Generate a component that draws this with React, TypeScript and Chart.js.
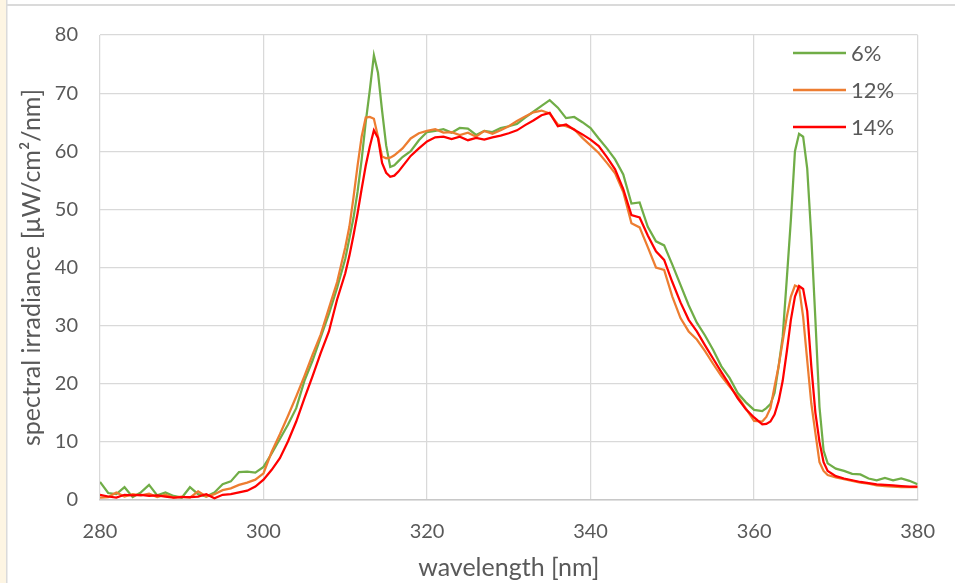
import React, { useEffect, useRef } from "react";
import { Chart, registerables } from "chart.js";

Chart.register(...registerables);

// wavelength grid [nm]
const wavelengths: number[] = [
  280, 281, 282, 283, 284, 285, 286, 287, 288, 289, 290, 291, 292, 293, 294, 295, 296, 297, 298, 299, 300,
  301, 302, 303, 304, 305, 306, 307, 308, 309, 310,
  310.5, 311, 311.5, 312, 312.5, 313, 313.5, 314, 314.5, 315, 315.5, 316, 316.5, 317,
  318, 319, 320, 321, 322, 323, 324, 325, 326, 327, 328, 329, 330, 331, 332, 333, 334, 335, 336, 337, 338, 339,
  340, 341, 342, 343, 344, 345, 346, 347, 348, 349, 350, 351, 352, 353, 354, 355, 356, 357, 358, 359, 360, 361,
  361.5, 362, 362.5, 363, 363.5, 364, 364.5, 365, 365.5, 366, 366.5, 367, 367.5, 368, 368.5, 369,
  370, 371, 372, 373, 374, 375, 376, 377, 378, 379, 380,
];

// spectral irradiance [µW/cm²/nm]
const irradiance6: number[] = [
  3.1, 1.2, 1.0, 2.2, 0.5, 1.3, 2.6, 0.8, 1.3, 0.7, 0.4, 2.2, 1.0, 0.6, 1.3, 2.7, 3.2, 4.8, 4.9, 4.7, 5.7,
  8.0, 10.5, 13.0, 15.8, 20.5, 24.0, 28.0, 32.0, 36.5, 41.5,
  45.0, 48.5, 53.0, 58.5, 65.0, 70.5, 76.5, 73.5, 67.0, 61.0, 57.3, 57.6, 58.3, 59.0,
  60.0, 61.9, 63.3, 63.5, 63.8, 63.2, 64.0, 63.9, 62.8, 63.5, 63.3, 64.0, 64.3, 64.7, 65.8, 66.8, 67.8, 68.8, 67.5, 65.7, 65.9, 65.0,
  64.0, 62.2, 60.5, 58.6, 56.0, 51.0, 51.2, 47.0, 44.5, 43.8, 40.5, 37.0, 33.5, 30.5, 28.3, 25.8, 23.0, 21.0, 18.4, 16.8, 15.5, 15.3,
  15.8, 16.5, 18.4, 23.0, 28.1, 38.0, 48.2, 60.0, 63.0, 62.5, 57.0, 45.3, 31.0, 16.0, 8.5, 6.3,
  5.4, 5.0, 4.5, 4.4, 3.7, 3.4, 3.8, 3.4, 3.7, 3.3, 2.7,
];

const irradiance12: number[] = [
  0.4, 0.5, 1.3, 0.6, 1.0, 0.8, 1.1, 0.5, 0.9, 0.4, 0.6, 0.4, 1.5, 0.6, 1.0, 1.7, 2.0, 2.6, 3.0, 3.5, 4.6,
  8.3, 11.3, 14.5, 17.8, 21.3, 25.0, 28.5, 33.0, 37.5, 43.5,
  47.0, 52.0, 57.5, 62.5, 65.8, 65.9, 65.6, 62.5, 59.1, 58.8, 58.9, 59.3, 59.9, 60.5,
  62.2, 63.1, 63.5, 63.8, 63.2, 63.3, 62.8, 63.2, 62.5, 63.5, 63.0, 63.6, 64.3, 65.2, 66.0, 66.7, 67.0, 66.5, 64.6, 64.3, 63.8, 62.3,
  61.0, 59.7, 58.0, 56.2, 53.0, 47.6, 46.9, 43.5, 40.0, 39.6, 35.0, 31.3, 29.0, 27.6, 25.6, 23.4, 21.3, 19.5, 17.8, 15.7, 13.6, 13.5,
  14.3, 15.8, 19.5, 23.0, 27.3, 31.5, 35.0, 36.9, 36.6, 31.5, 24.0, 16.6, 11.5, 6.5, 5.0, 4.3,
  3.9, 3.6, 3.3, 3.0, 2.8, 2.5, 2.4, 2.3, 2.2, 2.2, 2.2,
];

const irradiance14: number[] = [
  0.9, 0.6, 0.4, 0.9, 0.8, 0.9, 0.7, 0.8, 0.6, 0.4, 0.5, 0.5, 0.6, 1.0, 0.3, 0.9, 1.0, 1.3, 1.6, 2.3, 3.5,
  5.2, 7.2, 10.1, 13.5, 17.5, 21.3, 25.3, 29.0, 34.5, 39.0,
  42.0, 45.5, 49.3, 53.5, 57.5, 60.8, 63.6, 62.3, 58.0, 56.3, 55.6, 55.8, 56.5, 57.4,
  59.2, 60.5, 61.7, 62.4, 62.5, 62.1, 62.5, 61.9, 62.3, 62.0, 62.4, 62.7, 63.1, 63.6, 64.5, 65.3, 66.2, 66.6, 64.3, 64.6, 63.7, 62.9,
  62.0, 60.9, 59.0, 56.9, 53.5, 49.0, 48.6, 45.5, 42.8, 41.3, 37.5, 34.0, 31.0, 29.0, 26.6, 24.3, 22.0, 19.8, 17.5, 15.6, 14.2, 13.0,
  13.1, 13.5, 14.7, 17.0, 20.5, 25.5, 31.0, 35.0, 36.8, 36.3, 32.5, 23.0, 15.0, 10.0, 6.5, 5.0,
  4.1, 3.7, 3.4, 3.1, 2.9, 2.7, 2.6, 2.5, 2.4, 2.3, 2.3,
];

const seriesLabels: string[] = ["6%", "12%", "14%"];
const seriesColors: string[] = ["#70AD47", "#ED7D31", "#FF0000"];
const xTitle = "wavelength [nm]";
const yTitle = "spectral irradiance [\u03BCW/cm\u00B2/nm]";

const FONT = "Lato, 'Open Sans', sans-serif";
const TEXT = "#595959";
const GRID = "#D9D9D9";

const W = 955;
const H = 583;

const framePlugin = {
  id: "frame",
  beforeDraw(chart: any) {
    const ctx = chart.ctx;
    ctx.save();
    ctx.fillStyle = "#FFFFFF";
    ctx.fillRect(0, 0, chart.width, chart.height);
    ctx.fillStyle = "#FDF5E3";
    ctx.fillRect(0, 0, 6, chart.height);
    ctx.fillStyle = "#DADADA";
    ctx.fillRect(6, 0, 1.5, chart.height);
    ctx.fillRect(7, 4, chart.width - 7, 2);
    ctx.restore();
  },
};

const legendPlugin = {
  id: "insideLegend",
  afterDraw(chart: any) {
    const ctx = chart.ctx;
    const ds = chart.data.datasets;
    const x0 = 793;
    const x1 = 846;
    const tx = 851;
    const y0 = 53;
    const dy = 37;
    ctx.save();
    ctx.font = `22px ${FONT}`;
    ctx.textBaseline = "middle";
    ctx.textAlign = "left";
    ds.forEach((d: any, i: number) => {
      const y = y0 + i * dy;
      ctx.strokeStyle = d.borderColor;
      ctx.lineWidth = 2.5;
      ctx.beginPath();
      ctx.moveTo(x0, y);
      ctx.lineTo(x1, y);
      ctx.stroke();
      ctx.fillStyle = TEXT;
      ctx.fillText(d.label, tx, y + 1);
    });
    ctx.restore();
  },
};

export default function App() {
  const canvasRef = useRef<HTMLCanvasElement | null>(null);

  useEffect(() => {
    const canvas = canvasRef.current;
    if (!canvas) return;
    const series = [irradiance6, irradiance12, irradiance14];
    const chart = new Chart(canvas, {
      type: "line",
      data: {
        datasets: series.map((vals, i) => ({
          label: seriesLabels[i],
          data: wavelengths.map((w, j) => ({ x: w, y: vals[j] })),
          borderColor: seriesColors[i],
          backgroundColor: seriesColors[i],
          borderWidth: 2.25,
          pointRadius: 0,
          tension: 0,
          fill: false,
          order: 2 - i,
        })),
      },
      options: {
        animation: false,
        responsive: false,
        maintainAspectRatio: false,
        devicePixelRatio: 1,
        layout: { padding: { left: 0, top: 35, right: 35, bottom: 0 } },
        plugins: {
          legend: { display: false },
          tooltip: { enabled: false },
        },
        scales: {
          x: {
            type: "linear",
            min: 280,
            max: 380,
            afterFit: (s: any) => {
              s.height = 83;
            },
            ticks: {
              stepSize: 20,
              color: TEXT,
              padding: 20,
              font: { family: FONT, size: 20 },
              maxRotation: 0,
            },
            grid: { color: GRID, lineWidth: 1.25, drawTicks: false },
            border: { display: true, color: "#C8C8C8", width: 1.5 },
            title: {
              display: true,
              text: xTitle,
              color: TEXT,
              font: { family: FONT, size: 25 },
              padding: { top: 0, bottom: 0 },
            },
          },
          y: {
            type: "linear",
            min: 0,
            max: 80,
            afterFit: (s: any) => {
              s.width = 100;
            },
            ticks: {
              stepSize: 10,
              color: TEXT,
              padding: 22,
              font: { family: FONT, size: 20 },
            },
            grid: { color: GRID, lineWidth: 1.25, drawTicks: false },
            border: { display: false },
            title: {
              display: true,
              text: yTitle,
              color: TEXT,
              font: { family: FONT, size: 25 },
              padding: { top: 17, bottom: 0 },
            },
          },
        },
      },
      plugins: [framePlugin, legendPlugin],
    } as any);
    return () => chart.destroy();
  }, []);

  return (
    <div style={{ position: "fixed", left: 0, top: 0, width: W, height: H, background: "#fff" }}>
      <canvas ref={canvasRef} width={W} height={H} style={{ width: W, height: H, display: "block" }} />
    </div>
  );
}
